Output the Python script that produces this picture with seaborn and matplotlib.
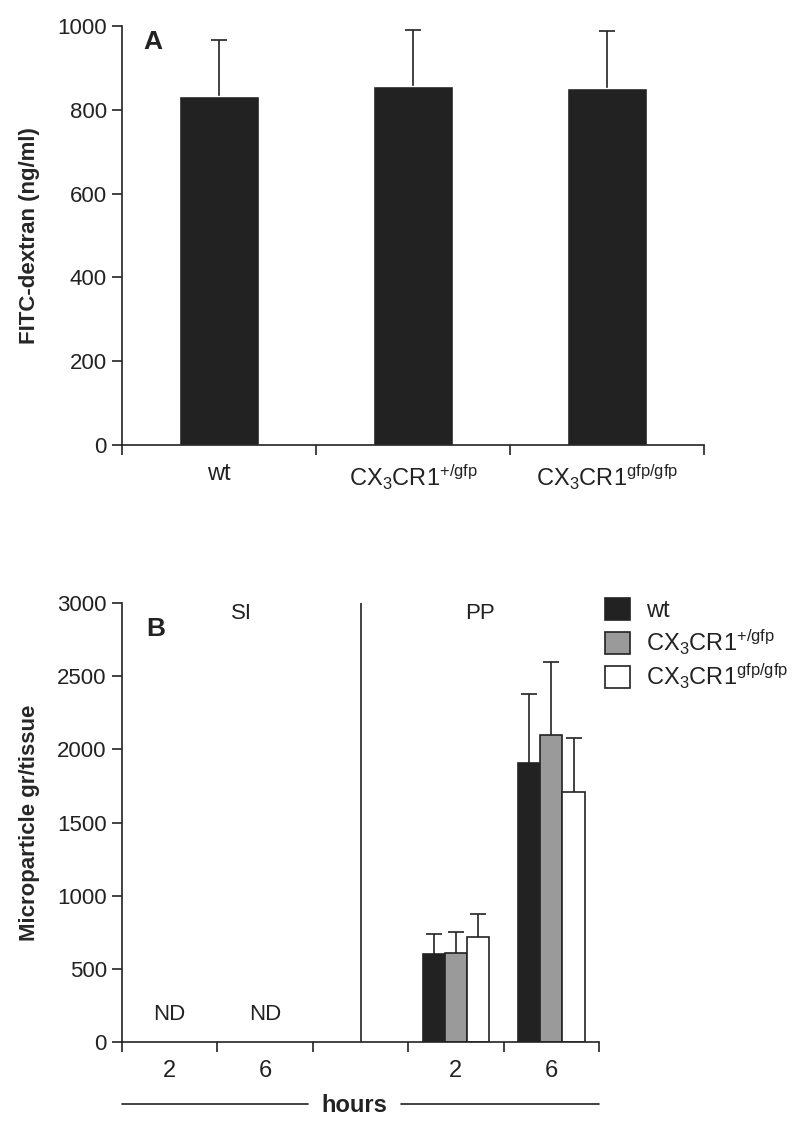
import numpy as np
import pandas as pd
import matplotlib
matplotlib.use("Agg")
import matplotlib.pyplot as plt
import seaborn as sns
from matplotlib.patches import Patch
from matplotlib.lines import Line2D

# ---------------- data ----------------
genotypes = ["wt", "CX3CR1+/gfp", "CX3CR1gfp/gfp"]
genotype_labels = [r"wt", r"CX$_3$CR1$^{+/gfp}$", r"CX$_3$CR1$^{gfp/gfp}$"]

fitc_mean = [832, 857, 853]
fitc_err = [134, 134, 134]

time_slots = ["SI 2", "SI 6", "gap", "PP 2", "PP 6"]
time_tick_labels = ["2", "6", "", "2", "6"]
pp_times = ["PP 2", "PP 6"]
micro_wt = [600, 1910]
micro_het = [607, 2100]
micro_ko = [716, 1709]
micro_wt_err = [141, 465]
micro_het_err = [143, 498]
micro_ko_err = [157, 368]

colors = ["#222222", "#9a9a9a", "#ffffff"]

# ---------------- style ----------------
sns.set_theme(style="ticks")
plt.rcParams["font.family"] = ["Liberation Sans", "DejaVu Sans"]
plt.rcParams["mathtext.default"] = "regular"
plt.rcParams["axes.linewidth"] = 1.2
plt.rcParams["axes.edgecolor"] = "#222222"
plt.rcParams["xtick.color"] = "#222222"
plt.rcParams["ytick.color"] = "#222222"
plt.rcParams["text.color"] = "#222222"
FS = 16
FSL = 17


def up_errorbar(ax, cx, h, e):
    _, caps, _ = ax.errorbar([cx], [h], yerr=[[0], [e]], fmt="none",
                             ecolor="#222222", elinewidth=1.2, capsize=6,
                             capthick=1.2, zorder=1)
    if len(caps) == 2:
        caps[0].set_visible(False)


fig = plt.figure(figsize=(8, 11.28), dpi=100)
axA = fig.add_axes([0.1525, 0.6055, 0.7275, 0.3715])
axB = fig.add_axes([0.1525, 0.0762, 0.5963, 0.3892])

# ---------------- panel A ----------------
dfA = pd.DataFrame({"genotype": genotypes, "value": fitc_mean})
sns.barplot(data=dfA, x="genotype", y="value", order=genotypes, color=colors[0],
            width=0.41, saturation=1, errorbar=None, ax=axA, zorder=2)
for bar, e in zip(axA.patches, fitc_err):
    up_errorbar(axA, bar.get_x() + bar.get_width() / 2, bar.get_height(), e)
axA.set_xlim(-0.5, 2.5)
axA.set_ylim(0, 1000)
axA.set_yticks([0, 200, 400, 600, 800, 1000])
axA.set_xticks([-0.5, 0.5, 1.5, 2.5])
axA.set_xticklabels([])
axA.set_xticks([0, 1, 2], minor=True)
axA.set_xticklabels(genotype_labels, minor=True, fontsize=FSL)
axA.tick_params(axis="x", which="major", length=7.5, width=1.2, direction="out")
axA.tick_params(axis="x", which="minor", length=0, pad=13)
axA.tick_params(axis="y", length=7, width=1.2, labelsize=FS, pad=4)
axA.set_xlabel("")
axA.set_ylabel("FITC-dextran (ng/ml)", fontsize=FS, fontweight="bold")
axA.yaxis.set_label_coords(-0.141, 0.5)
sns.despine(ax=axA)
axA.text(0.053, 0.962, "A", transform=axA.transAxes, fontsize=19,
         fontweight="bold", ha="center", va="center")

# ---------------- panel B ----------------
rows = []
for t, a, b, c in zip(pp_times, micro_wt, micro_het, micro_ko):
    rows.append((t, genotypes[0], a))
    rows.append((t, genotypes[1], b))
    rows.append((t, genotypes[2], c))
dfB = pd.DataFrame(rows, columns=["time", "genotype", "value"])
sns.barplot(data=dfB, x="time", y="value", hue="genotype", order=time_slots,
            hue_order=genotypes, palette=colors, width=0.7, saturation=1,
            errorbar=None, edgecolor="#222222", linewidth=1.2, ax=axB,
            legend=False, zorder=2)
errs = [micro_wt_err, micro_het_err, micro_ko_err]
for cont, errlist in zip(axB.containers, errs):
    for bar, e in zip(cont.patches, errlist):
        up_errorbar(axB, bar.get_x() + bar.get_width() / 2, bar.get_height(), e)

axB.set_xlim(-0.5, 4.5)
axB.set_ylim(0, 3000)
axB.set_yticks(np.arange(0, 3001, 500))
axB.set_xticks(np.arange(-0.5, 4.6, 1))
axB.set_xticklabels([])
axB.set_xticks(range(len(time_slots)), minor=True)
axB.set_xticklabels(time_tick_labels, minor=True, fontsize=FSL)
axB.tick_params(axis="x", which="major", length=7.5, width=1.2, direction="out")
axB.tick_params(axis="x", which="minor", length=0, pad=13)
axB.tick_params(axis="y", length=7, width=1.2, labelsize=FS, pad=4)
axB.set_xlabel("")
axB.set_ylabel("Microparticle gr/tissue", fontsize=FS, fontweight="bold")
axB.yaxis.set_label_coords(-0.172, 0.5)
sns.despine(ax=axB)
axB.axvline(2, color="#222222", lw=1.2)

axB.text(0.07, 0.94, "B", transform=axB.transAxes, fontsize=19,
         fontweight="bold", ha="center", va="center")
axB.text(0.75, 2930, "SI", fontsize=FS, ha="center", va="center")
axB.text(3.25, 2930, "PP", fontsize=FS, ha="center", va="center")
for xi in [0, 1]:
    axB.text(xi, 190, "ND", fontsize=FS, ha="center", va="center")

# "hours" with lines
axB.text(0.486, -0.145, "hours", transform=axB.transAxes, fontsize=FSL,
         fontweight="bold", ha="center", va="center")
for x0, x1 in [(0.0, 0.39), (0.585, 1.0)]:
    axB.add_line(Line2D([x0, x1], [-0.14, -0.14], transform=axB.transAxes,
                        color="#222222", lw=1.2, clip_on=False))

# legend
handles = [Patch(facecolor=c, edgecolor="#222222", linewidth=1.2) for c in colors]
fig.legend(handles, genotype_labels, loc="upper left",
           bbox_to_anchor=(0.745, 1 - 589 / 1128), frameon=False, fontsize=FSL,
           handlelength=1.05, handleheight=1.05, handletextpad=0.65,
           labelspacing=0.22, borderaxespad=0)

fig.savefig("out.png", dpi=100)
